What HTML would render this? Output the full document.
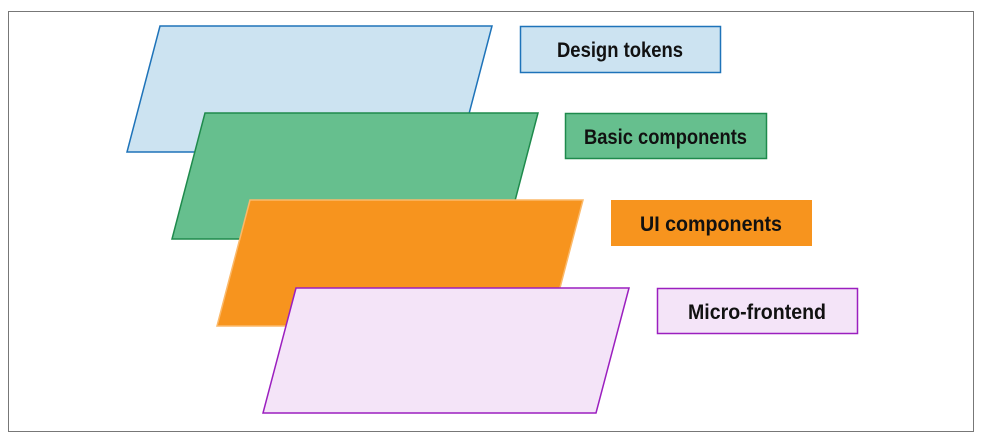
<!DOCTYPE html>
<html><head><meta charset="utf-8"><style>
html,body{margin:0;padding:0;background:#fff;}
svg{display:block}
text{font-family:"Liberation Sans",sans-serif;font-weight:bold;font-size:21px;fill:#111;}
</style></head><body>
<svg width="982" height="442" viewBox="0 0 982 442" xmlns="http://www.w3.org/2000/svg">
<rect x="8.5" y="11.5" width="965" height="420" fill="#fff" stroke="#777" stroke-width="1"/>
<polygon points="160,26 492,26 459,152 127,152" fill="#cce3f1" stroke="#1e73b9" stroke-width="1.5"/>
<polygon points="205,113 538,113 505,239 172,239" fill="#66bf8e" stroke="#1e8a4c" stroke-width="1.5"/>
<polygon points="250,200 583,200 550,326 217,326" fill="#f7941e" stroke="#fbb96a" stroke-width="1.5"/>
<polygon points="296,288 629,288 596,413 263,413" fill="#f4e4f8" stroke="#9b1fbf" stroke-width="1.5"/>
<rect x="520.5" y="26.5" width="200" height="46" fill="#cce3f1" stroke="#1e73b9" stroke-width="1.5"/>
<text x="557" y="57" textLength="126" lengthAdjust="spacingAndGlyphs">Design tokens</text>
<rect x="565.5" y="113.5" width="201" height="45" fill="#66bf8e" stroke="#1e8a4c" stroke-width="1.5"/>
<text x="584" y="144" textLength="163" lengthAdjust="spacingAndGlyphs">Basic components</text>
<rect x="611" y="200" width="201" height="46" fill="#f7941e"/>
<text x="640" y="231" textLength="142" lengthAdjust="spacingAndGlyphs">UI components</text>
<rect x="657.5" y="288.5" width="200" height="45" fill="#f4e4f8" stroke="#9b1fbf" stroke-width="1.5"/>
<text x="688" y="319" textLength="138" lengthAdjust="spacingAndGlyphs">Micro-frontend</text>
</svg>
</body></html>
